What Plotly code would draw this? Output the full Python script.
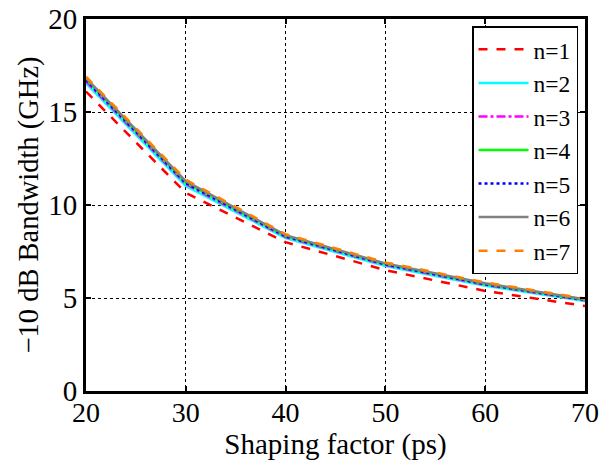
import plotly.graph_objects as go

shaping_ps = [20, 30, 40, 50, 60, 70]
series_names = ["n=1", "n=2", "n=3", "n=4", "n=5", "n=6", "n=7"]
bw_n1 = [16.1, 10.65, 8.0, 6.5, 5.38, 4.57]
bw_n2 = [16.55, 11.02, 8.22, 6.72, 5.66, 4.84]
bw_n3 = [16.65, 11.12, 8.28, 6.78, 5.71, 4.87]
bw_n4 = [16.75, 11.2, 8.33, 6.82, 5.75, 4.9]
bw_n5 = [16.72, 11.18, 8.32, 6.81, 5.74, 4.9]
bw_n6 = [16.82, 11.28, 8.38, 6.86, 5.79, 4.93]
bw_n7 = [16.9, 11.36, 8.43, 6.91, 5.84, 4.97]
series_values = [bw_n1, bw_n2, bw_n3, bw_n4, bw_n5, bw_n6, bw_n7]

colors = ["#ff0000", "#00ffff", "#ff00ff", "#00ff00", "#0000ff", "#808080", "#ff8000"]
dashes = ["dash", "solid", "dashdot", "solid", "dot", "solid", "dash"]

FONT = "Liberation Serif, Times New Roman, serif"

fig = go.Figure()
for name, vals, c, d in zip(series_names, series_values, colors, dashes):
    fig.add_trace(go.Scatter(x=shaping_ps, y=vals, mode="lines", name=name,
                             line=dict(color=c, dash=d, width=2.5)))

axis_common = dict(
    showline=True, linecolor="black", linewidth=3, mirror="ticks",
    ticks="inside", ticklen=5, tickwidth=1.5, tickcolor="black",
    showgrid=True, gridcolor="black", gridwidth=1, griddash="dot",
    zeroline=False, automargin=False,
    tickfont=dict(family=FONT, size=29, color="black"),
)

fig.update_layout(
    width=601, height=461,
    margin=dict(l=86, r=16, t=19, b=70),
    paper_bgcolor="white", plot_bgcolor="white",
    font=dict(family=FONT, color="black"),
    showlegend=True,
    legend=dict(
        x=0.986, y=0.981, xanchor="right", yanchor="top",
        bgcolor="white", bordercolor="black", borderwidth=1.5,
        font=dict(family=FONT, size=23.5, color="black"),
        tracegroupgap=0, itemwidth=50,
    ),
    xaxis=dict(axis_common, range=[20, 70], tickvals=[20, 30, 40, 50, 60, 70],
               tickfont=dict(family=FONT, size=28, color="black"),
               ticklabelstandoff=-6,
               title=dict(text="Shaping factor (ps)", font=dict(family=FONT, size=29), standoff=7)),
    yaxis=dict(axis_common, range=[0, 20], tickvals=[0, 5, 10, 15, 20],
               title=dict(text="\u221210 dB Bandwidth (GHz)", font=dict(family=FONT, size=28.5), standoff=2)),
)

fig.write_html("out.html")
